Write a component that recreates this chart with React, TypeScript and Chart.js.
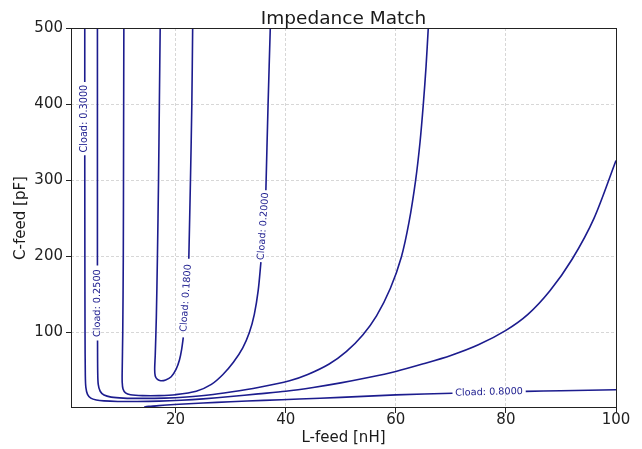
import React, { useEffect, useRef } from 'react';
import { Chart, registerables } from 'chart.js';

Chart.register(...registerables);

// ---- data ----
const xTicks = [20, 40, 60, 80, 100];
const yTicks = [100, 200, 300, 400, 500];
const xRange = [1, 100];
const yRange = [1, 500];

type Pt = [number, number | null];

// Each contour line; a null y marks where the inline label breaks the line.
const cload018: Pt[] = [
  [17.2, 500], [17.05, 400], [16.9, 300], [16.7, 200], [16.5, 120], [16.3, 70], [16.2, 52],
  [16.3, 43], [16.7, 38.5], [17.3, 36.8], [18.2, 37.8], [19.2, 42], [20.1, 52], [20.7, 64],
  [21.1, 78], [21.4, 93.8], [21.9, null], [22.4, 197], [22.7, 300], [22.95, 400], [23.1, 500],
];
const cload020: Pt[] = [
  [10.6, 500], [10.55, 350], [10.5, 200], [10.4, 100], [10.3, 50], [10.3, 35], [10.45, 26],
  [10.9, 21], [11.8, 18.5], [14, 17.3], [17, 17.3], [20, 18.5], [23.75, 23], [26.5, 32],
  [28.6, 45], [30.5, 61], [32.2, 80], [33.4, 100], [34.3, 124], [35.0, 155], [35.5, 192.5],
  [36, null], [36.4, 287], [36.8, 400], [37.2, 500],
];
const cload025: Pt[] = [
  [5.8, 500], [5.8, 300], [5.8, 188], [5.8, null], [5.82, 89.5], [5.85, 50], [5.95, 32],
  [6.3, 23], [7, 18], [8.3, 15.3], [10.5, 14], [14, 13.6], [18, 14], [22, 15.5], [26, 18],
  [30, 22], [35, 28], [40.7, 36.8], [44, 45], [47.9, 58.8], [51, 75], [54, 97], [56.5, 122],
  [59, 158], [61.0, 199], [62.4, 245], [63.6, 300], [64.4, 350], [65.0, 400], [65.5, 450],
  [65.9, 500],
];
const cload030: Pt[] = [
  [3.5, 500], [3.5, 429], [3.5, null], [3.5, 333], [3.52, 200], [3.55, 100], [3.6, 45],
  [3.7, 28], [4.0, 19], [4.6, 14], [5.6, 11.5], [7, 10.3], [9.5, 9.6], [13, 9.5], [17, 10],
  [21, 11.2], [25, 13], [30, 16], [35, 19.5], [40, 23], [45, 28], [50, 34], [55, 41],
  [60, 49], [65, 59], [70, 70], [75, 84], [80, 103], [84, 124], [88, 155], [92, 196],
  [96, 250], [100, 326],
];
const cload080: Pt[] = [
  [22, 0.3], [18, 1.2], [15.5, 2.0], [14.4, 2.6], [15.5, 3.3], [17, 4.2], [19.8, 5.5],
  [25, 7.5], [30, 9.2], [36, 11], [42.5, 12.8], [50, 15], [60, 18.2], [70.3, 20.4],
  [77, null], [83.6, 22.8], [90, 23.7], [100, 25],
];

const curves: { name: string; pts: Pt[] }[] = [
  { name: 'Cload: 0.1800', pts: cload018 },
  { name: 'Cload: 0.2000', pts: cload020 },
  { name: 'Cload: 0.2500', pts: cload025 },
  { name: 'Cload: 0.3000', pts: cload030 },
  { name: 'Cload: 0.8000', pts: cload080 },
];

const titleText = 'Impedance Match';
const xTitle = 'L-feed [nH]';
const yTitle = 'C-feed [pF]';

const LINE = '#1c1c8e';
const FONT = '"DejaVu Sans", "Liberation Sans", sans-serif';

const overlayPlugin = {
  id: 'overlay',
  afterDatasetsDraw(chart: any) {
    const { ctx, chartArea } = chart;
    const xs = chart.scales.x;
    const ys = chart.scales.y;
    ctx.save();
    // inline contour labels
    ctx.fillStyle = LINE;
    ctx.font = `9.7px ${FONT}`;
    ctx.textAlign = 'center';
    ctx.textBaseline = 'middle';
    chart.data.datasets.forEach((ds: any) => {
      const pts = ds.data;
      const gi = pts.findIndex((p: any) => p.y === null);
      if (gi < 1) return;
      const a = pts[gi - 1];
      const b = pts[gi + 1];
      const ax = xs.getPixelForValue(a.x), ay = ys.getPixelForValue(a.y);
      const bx = xs.getPixelForValue(b.x), by = ys.getPixelForValue(b.y);
      let ang = (Math.atan2(by - ay, bx - ax) * 180) / Math.PI;
      if (ang > 90) ang -= 180;
      if (ang < -90) ang += 180;
      if (ang > 80) ang -= 180;
      ctx.save();
      ctx.translate((ax + bx) / 2, (ay + by) / 2);
      ctx.rotate((ang * Math.PI) / 180);
      ctx.fillText(ds.label, 0, 0);
      ctx.restore();
    });
    // frame
    ctx.strokeStyle = '#222';
    ctx.lineWidth = 1;
    ctx.setLineDash([]);
    ctx.strokeRect(chartArea.left + 0.5, chartArea.top + 0.5,
      chartArea.right - chartArea.left, chartArea.bottom - chartArea.top - 1);
    // title
    ctx.fillStyle = '#1a1a1a';
    ctx.font = `18.5px ${FONT}`;
    ctx.textAlign = 'center';
    ctx.textBaseline = 'alphabetic';
    ctx.fillText(titleText, (chartArea.left + chartArea.right) / 2, 24);
    ctx.restore();
  },
};

export default function App() {
  const ref = useRef<HTMLCanvasElement | null>(null);
  useEffect(() => {
    document.body.style.margin = '0';
    const canvas = ref.current;
    if (!canvas) return;
    const chart = new Chart(canvas, {
      type: 'scatter',
      data: {
        datasets: curves.map((c) => ({
          label: c.name,
          data: c.pts.map(([x, y]) => ({ x, y })),
          showLine: true,
          borderColor: LINE,
          backgroundColor: LINE,
          borderWidth: 1.6,
          pointRadius: 0,
          pointHoverRadius: 0,
          tension: 0.3,
          fill: false,
        })),
      },
      options: {
        animation: false,
        responsive: false,
        devicePixelRatio: 1,
        events: [],
        layout: { padding: { top: 28, right: 26, left: 0, bottom: 0 } },
        plugins: { legend: { display: false }, tooltip: { enabled: false }, title: { display: false } },
        scales: {
          x: {
            type: 'linear',
            min: xRange[0],
            max: xRange[1],
            afterBuildTicks: (axis: any) => { axis.ticks = xTicks.map((v) => ({ value: v })); },
            afterFit: (axis: any) => { axis.height = 41; },
            grid: {
              color: 'rgba(0,0,0,0.2)', lineWidth: 0.8, tickLength: 5,
              tickColor: '#222', tickWidth: 1, tickBorderDash: [],
            },
            border: { display: false, dash: [3, 2] },
            ticks: { color: '#222', padding: 0, font: { family: FONT, size: 15, lineHeight: 1 }, maxRotation: 0 },
            title: { display: true, text: xTitle, color: '#1a1a1a', font: { family: FONT, size: 15, lineHeight: 1.2 }, padding: { top: 0, bottom: 2 } },
          },
          y: {
            type: 'linear',
            min: yRange[0],
            max: yRange[1],
            afterBuildTicks: (axis: any) => { axis.ticks = yTicks.map((v) => ({ value: v })); },
            afterFit: (axis: any) => { axis.width = 71; },
            grid: {
              color: 'rgba(0,0,0,0.2)', lineWidth: 0.8, tickLength: 5,
              tickColor: '#222', tickWidth: 1, tickBorderDash: [],
            },
            border: { display: false, dash: [3, 2] },
            ticks: { color: '#222', padding: 3, font: { family: FONT, size: 15, lineHeight: 1 } },
            title: { display: true, text: yTitle, color: '#1a1a1a', font: { family: FONT, size: 15, lineHeight: 1.2 }, padding: { top: 12.5, bottom: 0 } },
          },
        },
      },
      plugins: [overlayPlugin],
    } as any);
    return () => chart.destroy();
  }, []);
  return (
    <div style={{ width: 642, height: 449, position: 'relative' }}>
      <canvas ref={ref} width={642} height={449} style={{ display: 'block', width: 642, height: 449 }} />
    </div>
  );
}
